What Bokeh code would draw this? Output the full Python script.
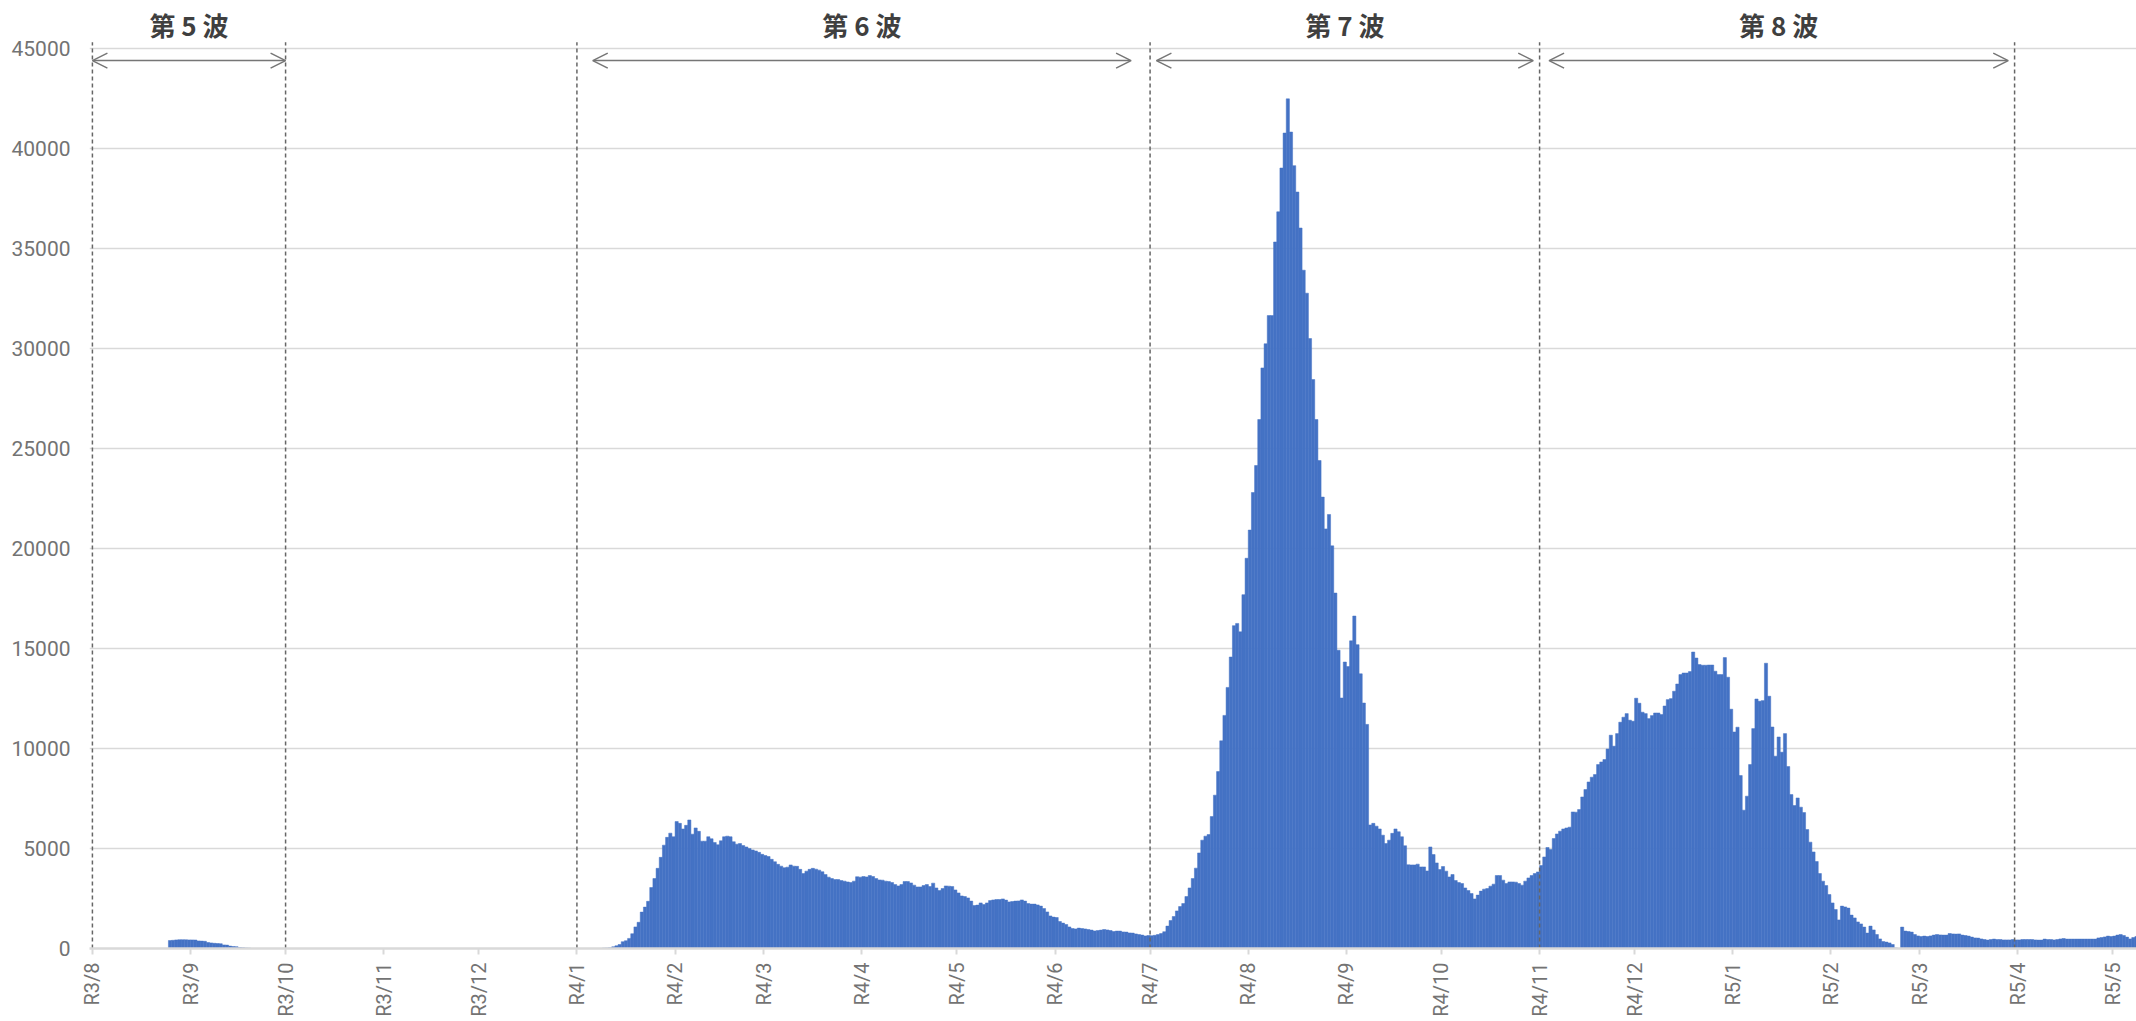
import math
import pandas as pd
import numpy as np
from bokeh.plotting import figure
from bokeh.models import ColumnDataSource, FixedTicker, Range1d, Arrow, OpenHead
from bokeh.core.properties import value
from bokeh.embed import file_html
from bokeh.resources import INLINE

# ---------------- data ----------------
START = pd.Timestamp("2021-08-01")
END = pd.Timestamp("2023-05-08")

# 5th wave (daily values from 2021-08-25)
seg5_start = "2021-08-25"
seg5_vals = [400, 410, 430, 440, 440, 435, 430, 430, 425, 380,
             370, 360, 300, 280, 260, 250, 240, 180, 170, 120,
             100, 90, 50, 40, 30, 20]

# 6th wave (daily values from 2022-01-09)
seg6_start = "2022-01-09"
seg6_vals = [20, 30, 40, 85, 135, 200, 340, 390, 505, 740,
             1080, 1310, 1820, 2070, 2360, 3050, 3500, 4010, 4560, 5170,
             5560, 5770, 5590, 6350, 6260, 5980, 6160, 6430, 5720, 6030,
             5860, 5370, 5370, 5590, 5490, 5300, 5190, 5390, 5590, 5620,
             5590, 5340, 5220, 5250, 5150, 5080, 5000, 4930, 4880, 4810,
             4710, 4650, 4600, 4460, 4340, 4210, 4120, 4040, 4070, 4180,
             4120, 4110, 3960, 3750, 3870, 3960, 4010, 3970, 3920, 3840,
             3700, 3570, 3500, 3450, 3450, 3400, 3370, 3330, 3300, 3370,
             3590, 3570, 3600, 3580, 3650, 3600, 3500, 3430, 3420, 3370,
             3350, 3300, 3200, 3130, 3200, 3350, 3350, 3280, 3170, 3080,
             3080, 3150, 3200, 3100, 3270, 3030, 2900, 3000, 3130, 3120,
             3100, 2930, 2780, 2630, 2600, 2530, 2370, 2150, 2170, 2280,
             2200, 2280, 2400, 2430, 2450, 2450, 2480, 2420, 2330, 2350,
             2370, 2380, 2430, 2370, 2250, 2220, 2220, 2180, 2120, 2000,
             1830, 1630, 1570, 1550, 1350, 1270, 1200, 1080, 1000, 980,
             1020, 1000, 980, 950, 920, 880, 900, 920, 950, 930,
             900, 850, 870, 870, 830, 820, 780, 770, 730, 700,
             670, 630, 650]

# 7th wave (daily values from 2022-07-01)
seg7_start = "2022-07-01"
seg7_vals = [640, 660, 700, 750, 840, 1120, 1400,
             1600, 1880, 2100, 2250, 2600, 3030, 3500, 4020, 4780, 5420,
             5620, 5700, 6600, 7670, 8850, 10390, 11660, 13060, 14580, 16150,
             16260, 15840, 17700, 19520, 20930, 22810, 24160, 26460, 29040, 30250,
             31660, 31660, 35340, 36850, 39040, 40790, 42500, 40840, 39160, 37840,
             36040, 33930, 32780, 30510, 28460, 26460, 24410, 22580, 20990, 21710,
             20140, 17780, 14920, 12530, 14330, 14100, 15390, 16630, 15200, 13740,
             12280, 11210, 6180, 6260, 6120, 5980, 5670, 5250, 5420, 5760,
             5980, 5840, 5590, 5140, 4190, 4180, 4180, 4220, 4080, 4080,
             3880, 5080, 4700, 4280, 3950, 4100, 3870, 3580, 3700, 3400,
             3300, 3250, 3030, 2900, 2750, 2480, 2670, 2870, 2970, 3000,
             3120, 3220, 3650, 3650, 3420, 3250, 3330, 3330, 3320, 3250,
             3170, 3370, 3530, 3650, 3750, 3830]

# 8th wave and after (daily values from 2022-11-01)
seg8_start = "2022-11-01"
seg8_vals = [4150, 4580, 5050, 4950,
             5500, 5730, 5870, 5980, 6030, 6070, 6830, 6820, 6950, 7580,
             7950, 8330, 8570, 8700, 9200, 9330, 9450, 9980, 10670, 10120,
             10750, 11320, 11570, 11750, 11420, 11370, 12520, 12270, 11820, 11750,
             11500, 11650, 11780, 11780, 11700, 12130, 12450, 12500, 12870, 13230,
             13700, 13780, 13780, 13850, 14830, 14530, 14200, 14170, 14170, 14180,
             14180, 13870, 13700, 13700, 14550, 13570, 11970, 10830, 11070, 8650,
             6920, 7620, 9200, 11000, 12480, 12370, 12400, 14270, 12620, 11080,
             9620, 10580, 9820, 10750, 9100, 7700, 7150, 7530, 7070, 6800,
             5950, 5320, 4830, 4350, 3750, 3370, 3150, 2700, 2280, 1950,
             1430, 2120, 2080, 2020, 1670, 1530, 1330, 1230, 1070, 770,
             1120, 930, 700, 480, 350, 320, 280, 200, 30, -120,
             1070, 870, 850, 820, 700, 630, 600, 620, 600, 630,
             670, 700, 680, 670, 670, 750, 730, 720, 730, 670,
             650, 620, 570, 530, 520, 480, 450, 420, 450, 470,
             450, 450, 430, 430, 430, 450, 430, 430, 450, 450,
             450, 450, 430, 420, 420, 470, 450, 450, 430, 450,
             480, 500, 470, 470, 470, 470, 470, 470, 470, 470,
             470, 470, 530, 550, 580, 620, 600, 620, 670, 700,
             650, 570, 480, 550, 600]

tick_labels = ["R3/8", "R3/9", "R3/10", "R3/11", "R3/12",
               "R4/1", "R4/2", "R4/3", "R4/4", "R4/5", "R4/6",
               "R4/7", "R4/8", "R4/9", "R4/10", "R4/11", "R4/12",
               "R5/1", "R5/2", "R5/3", "R5/4", "R5/5"]
tick_dates = pd.date_range("2021-08-01", "2023-05-01", freq="MS")

boundary_dates = ["2021-08-01", "2021-10-01", "2022-01-01",
                  "2022-07-01", "2022-11-01", "2023-03-31"]
wave_labels = ["第 5 波", "第 6 波", "第 7 波", "第 8 波"]
arrow_start_dates = ["2021-08-01", "2022-01-06", "2022-07-03", "2022-11-04"]
arrow_end_dates = ["2021-10-01", "2022-06-25", "2022-10-30", "2023-03-29"]


def day(d):
    return (pd.Timestamp(d) - START).days


n_days = (END - START).days + 1
vals = np.zeros(n_days)
for s, v in [(seg5_start, seg5_vals), (seg6_start, seg6_vals),
             (seg7_start, seg7_vals), (seg8_start, seg8_vals)]:
    i0 = day(s)
    vals[i0:i0 + len(v)] = v

dates = pd.date_range(START, END, freq="D")
src = ColumnDataSource(dict(x=np.arange(n_days) + 0.5, top=vals,
                            date=dates.strftime("%Y-%m-%d")))

# ---------------- figure ----------------
BLUE = "#4472C4"
GRID = "#d9d9d9"
LABEL = "#737373"

p = figure(width=2136, height=1021, output_backend="svg", toolbar_location=None,
           x_range=Range1d(-0.92, 645.5), y_range=Range1d(0, 47420),
           min_border_left=89, min_border_right=0, min_border_top=0,
           min_border_bottom=73)
p.outline_line_color = None

p.vbar(x="x", top="top", bottom=0, width=1.0, source=src,
       fill_color=BLUE, line_color=BLUE, line_width=0.5)

# wave boundary dashed lines
bx = [day(d) for d in boundary_dates]
p.segment(x0=bx, y0=[0] * len(bx), x1=bx, y1=[45330] * len(bx),
          line_color="#666666", line_width=1.5, line_dash="4 3")

# arrows
ax0 = [day(d) for d in arrow_start_dates]
ax1 = [day(d) for d in arrow_end_dates]
asrc = ColumnDataSource(dict(x0=ax0, x1=ax1, y=[44414] * len(ax0)))
head = dict(size=15, line_color="#767676", line_width=1.5)
p.add_layout(Arrow(start=OpenHead(**head), end=OpenHead(**head),
                   x_start="x0", y_start="y", x_end="x1", y_end="y",
                   source=asrc, line_color="#767676", line_width=1.5))

# wave labels
cx = [(a + b) / 2 for a, b in zip(ax0, ax1)]
p.text(x=cx, y=[46220] * len(cx), text=wave_labels,
       text_font=value("Noto Sans CJK JP"), text_font_style="bold",
       text_font_size="26px", text_color="#3f3f3f",
       text_align="center", text_baseline="middle")

# x axis
tick_pos = [day(d) for d in tick_dates]
p.xaxis.ticker = FixedTicker(ticks=tick_pos)
p.xaxis.major_label_overrides = {t: lab for t, lab in zip(tick_pos, tick_labels)}
p.xaxis.major_label_orientation = math.pi / 2
p.xaxis.axis_line_color = GRID
p.xaxis.axis_line_width = 2.5
p.xaxis.major_tick_line_color = GRID
p.xaxis.major_tick_line_width = 2
p.xaxis.major_tick_out = 6
p.xaxis.major_tick_in = 0
p.xaxis.minor_tick_line_color = None
p.xaxis.major_label_standoff = 8
p.xaxis.major_label_text_font = "Roboto"
p.xaxis.major_label_text_font_size = "20px"
p.xaxis.major_label_text_color = LABEL

# y axis
yt = list(range(0, 45001, 5000))
p.yaxis.ticker = FixedTicker(ticks=yt)
p.yaxis.axis_line_color = None
p.yaxis.major_tick_line_color = None
p.yaxis.minor_tick_line_color = None
p.yaxis.major_tick_out = 0
p.yaxis.major_label_standoff = 19
p.yaxis.major_label_text_font = "Roboto"
p.yaxis.major_label_text_font_size = "21px"
p.yaxis.major_label_text_color = LABEL

p.ygrid.ticker = FixedTicker(ticks=yt)
p.ygrid.grid_line_color = GRID
p.ygrid.grid_line_width = 1.5
p.xgrid.grid_line_color = None

with open("out.html", "w", encoding="utf-8") as f:
    f.write(file_html(p, INLINE))
